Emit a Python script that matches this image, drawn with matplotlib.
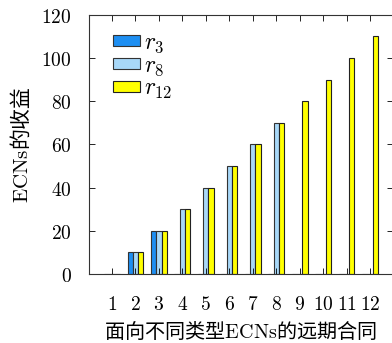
import numpy as np
import matplotlib.pyplot as plt

plt.rcParams['font.family'] = ['Noto Sans CJK SC', 'DejaVu Sans']
plt.rcParams['mathtext.fontset'] = 'cm'

# 各类合同下的收益
contracts = list(range(1, 13))
r3 = [0, 10, 20, 0, 0, 0, 0, 0, 0, 0, 0, 0]
r8 = [0, 10, 20, 30, 40, 50, 60, 70, 0, 0, 0, 0]
r12 = [0, 10, 20, 30, 40, 50, 60, 70, 80, 90, 100, 110]
yticks = [0, 20, 40, 60, 80, 100, 120]

fig = plt.figure(figsize=(3.92, 3.43), dpi=100)
ax = fig.add_axes([0.2258, 0.201, 0.778, 0.756])

x = np.array(contracts)
w = 0.225
ax.bar(x - w, r3, w, color='#1e8ff2', edgecolor='#333333', linewidth=0.8, label=r'$r_3$')
ax.bar(x, r8, w, color='#a8d8f8', edgecolor='#333333', linewidth=0.8, label=r'$r_8$')
ax.bar(x + w, r12, w, color='#ffff00', edgecolor='#222222', linewidth=0.8, label=r'$r_{12}$')

ax.set_xlim(0, 13)
ax.set_ylim(0, 120)
ax.set_xticks(x)
ax.set_xticklabels(['$%d$' % c for c in contracts], fontsize=14)
ax.set_yticks(yticks)
ax.set_yticklabels(['$%d$' % v for v in yticks], fontsize=14)
ax.tick_params(direction='in', top=True, right=True, length=4, width=0.6)
ax.tick_params(axis='x', pad=14)
ax.tick_params(axis='y', pad=12)
for s in ax.spines.values():
    s.set_linewidth(0.8)
    s.set_color('#333333')

ax.set_xlabel(r'面向不同类型$\mathrm{ECNs}$的远期合同', fontsize=14.5, labelpad=4)
ax.set_ylabel(r'$\mathrm{ECNs}$的收益', fontsize=15, labelpad=6)

ax.legend(loc='upper left', frameon=False, fontsize=17, handlelength=1.15,
          handleheight=0.34, labelspacing=-0.05, handletextpad=0.2,
          borderpad=0, borderaxespad=0, bbox_to_anchor=(0.079, 0.937))

fig.savefig('out.png', dpi=100)
